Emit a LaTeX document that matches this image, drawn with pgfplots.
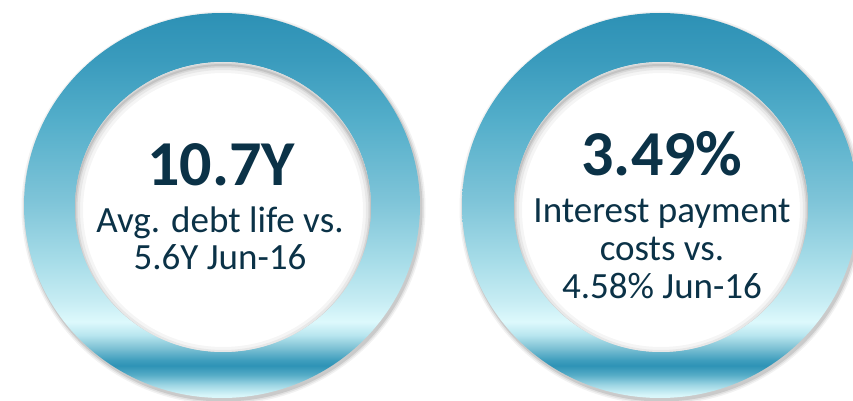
\documentclass[border=0pt]{standalone}
\usepackage{pgfplots}
\pgfplotsset{compat=1.18}
\usepackage{fontspec}
\setmainfont{Carlito}
\definecolor{txt}{HTML}{0B3247}
\definecolor{s0}{HTML}{DDF8FB}
\definecolor{s1}{HTML}{D6F5F9}
\definecolor{s2}{HTML}{9ED6E4}
\definecolor{s3}{HTML}{56ACC7}
\definecolor{s4}{HTML}{2E93B6}
\definecolor{s5}{HTML}{3E9DBD}
\definecolor{s6}{HTML}{7DC1D4}
\definecolor{s7}{HTML}{B9E6EF}
\definecolor{s8}{HTML}{DDF9FC}
\definecolor{s9}{HTML}{C6ECF3}
\definecolor{s10}{HTML}{A6DCE8}
\definecolor{s11}{HTML}{7EC4D8}
\definecolor{s12}{HTML}{53AECA}
\definecolor{s13}{HTML}{3A9BBD}
\definecolor{s14}{HTML}{2D91B5}
\pgfdeclareverticalshading{ringshade}{100bp}{%
color(0bp)=(s0); color(25bp)=(s0); color(25.4bp)=(s1); color(26.7bp)=(s2);
color(28bp)=(s3); color(29.2bp)=(s4); color(29.9bp)=(s5); color(31.5bp)=(s6);
color(33.2bp)=(s7); color(34.9bp)=(s8); color(37.7bp)=(s9); color(42.9bp)=(s10);
color(50.7bp)=(s11); color(61.1bp)=(s12); color(68.9bp)=(s13); color(75bp)=(s14);
color(100bp)=(s14)}
\begin{document}
\begin{tikzpicture}
\begin{axis}[x=1bp, y=1bp, xmin=0, xmax=853, ymin=0, ymax=401,
  hide axis, clip=false, scale only axis]
% ---- left ring ----
\fill[black, opacity=0.05] (axis cs:223.5,193) ellipse [x radius=202, y radius=196.5];
\fill[black, opacity=0.07] (axis cs:223.5,193) ellipse [x radius=200.5, y radius=195];
\fill[black, opacity=0.10] (axis cs:223.5,193) ellipse [x radius=199, y radius=193.5];
\shade[shading=ringshade, even odd rule] (axis cs:222,195.5) ellipse [x radius=198, y radius=192.5]
  (axis cs:223,194) ellipse [x radius=148, y radius=145];
\fill[white] (axis cs:223,194) ellipse [x radius=148, y radius=145];
\begin{scope}
\clip (axis cs:223,194) ellipse [x radius=148, y radius=145];
\draw[black, opacity=0.04, line width=16bp] (axis cs:223,191) ellipse [x radius=148, y radius=145];
\draw[black, opacity=0.05, line width=10bp] (axis cs:223,191) ellipse [x radius=148, y radius=145];
\draw[black, opacity=0.07, line width=5bp] (axis cs:223,191) ellipse [x radius=148, y radius=145];
\draw[black, opacity=0.09, line width=2bp] (axis cs:223,191) ellipse [x radius=148, y radius=145];
\end{scope}
% ---- right ring ----
\fill[black, opacity=0.05] (axis cs:661.5,193) ellipse [x radius=202, y radius=196.5];
\fill[black, opacity=0.07] (axis cs:661.5,193) ellipse [x radius=200.5, y radius=195];
\fill[black, opacity=0.10] (axis cs:661.5,193) ellipse [x radius=199, y radius=193.5];
\shade[shading=ringshade, even odd rule] (axis cs:660,195.5) ellipse [x radius=198, y radius=192.5]
  (axis cs:661,194) ellipse [x radius=147, y radius=145];
\fill[white] (axis cs:661,194) ellipse [x radius=147, y radius=145];
\begin{scope}
\clip (axis cs:661,194) ellipse [x radius=147, y radius=145];
\draw[black, opacity=0.04, line width=16bp] (axis cs:661,191) ellipse [x radius=147, y radius=145];
\draw[black, opacity=0.05, line width=10bp] (axis cs:661,191) ellipse [x radius=147, y radius=145];
\draw[black, opacity=0.07, line width=5bp] (axis cs:661,191) ellipse [x radius=147, y radius=145];
\draw[black, opacity=0.09, line width=2bp] (axis cs:661,191) ellipse [x radius=147, y radius=145];
\end{scope}
% ---- texts ----
\node[anchor=base, text=txt, font=\fontsize{64bp}{64bp}\selectfont\bfseries, inner sep=0pt] at (axis cs:221,216) {10.7Y};
\node[anchor=base, text=txt, font=\fontsize{37bp}{37bp}\selectfont, inner sep=0pt] at (axis cs:220,169) {Avg. debt life vs.};
\node[anchor=base, text=txt, font=\fontsize{37bp}{37bp}\selectfont, inner sep=0pt] at (axis cs:220,132) {5.6Y Jun-16};
\node[anchor=base, text=txt, font=\fontsize{64bp}{64bp}\selectfont\bfseries, inner sep=0pt] at (axis cs:662,226) {3.49\%};
\node[anchor=base, text=txt, font=\fontsize{37bp}{37bp}\selectfont, inner sep=0pt] at (axis cs:662,179) {Interest payment};
\node[anchor=base, text=txt, font=\fontsize{37bp}{37bp}\selectfont, inner sep=0pt] at (axis cs:662,141) {costs vs.};
\node[anchor=base, text=txt, font=\fontsize{37bp}{37bp}\selectfont, inner sep=0pt] at (axis cs:662,103) {4.58\% Jun-16};
\end{axis}
\pgfresetboundingbox
\useasboundingbox (0,0) rectangle (853bp,401bp);
\end{tikzpicture}
\end{document}
